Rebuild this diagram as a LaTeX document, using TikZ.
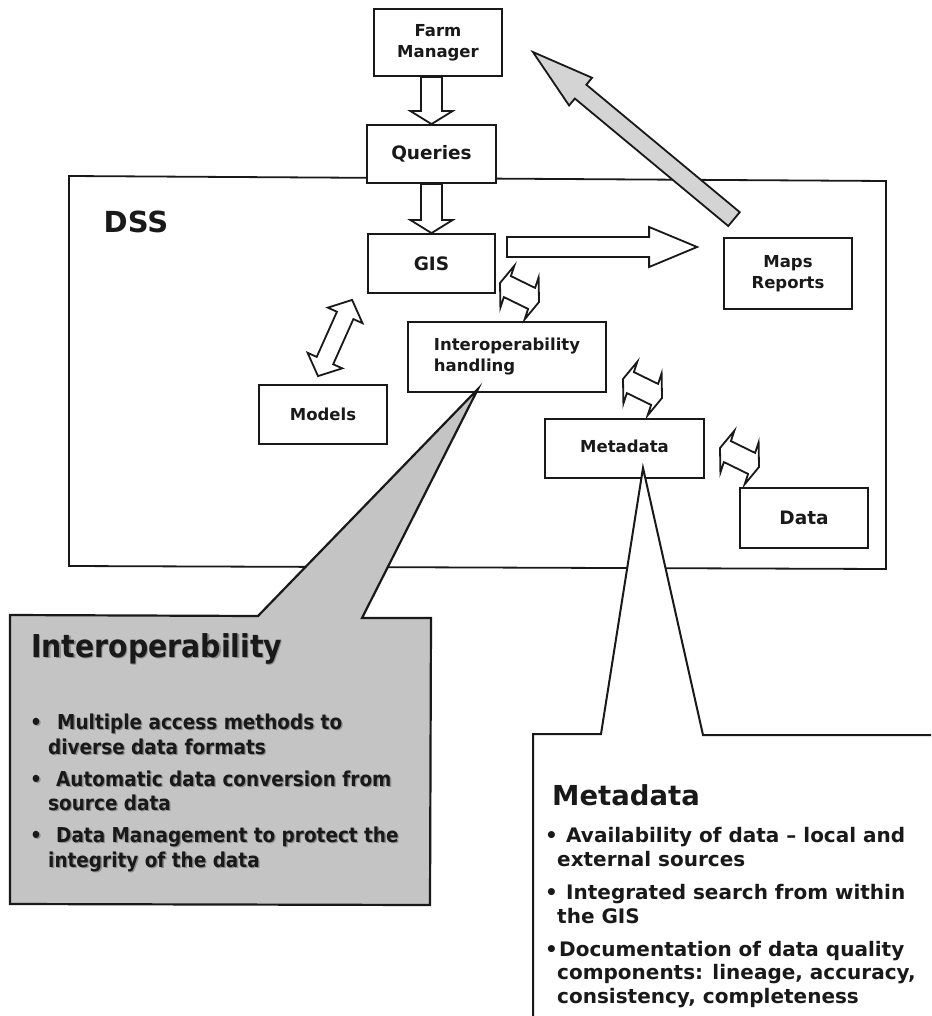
\documentclass[tikz,border=0pt]{standalone}
\usepackage{fontspec}
\setmainfont{DejaVu Sans}
\newfontfamily\condfont{DejaVu Sans Condensed}
\usetikzlibrary{calc}

\definecolor{inkblack}{RGB}{25,25,25}
\definecolor{calloutgray}{RGB}{196,196,196}
\definecolor{arrowgray}{RGB}{212,212,212}

% text with a soft drop shadow (used in the grey callout)
\newcommand\shadetext[1]{\rlap{\hspace{1.3pt}\raisebox{-1.3pt}{\textcolor{black!45}{#1}}}#1}

% hollow one-way block arrow: style, tail, tip, shaft half-width, head half-width, head length
\newcommand\onewayarrow[6]{%
  \coordinate (hb) at ($(#3)!#6!(#2)$);
  \draw[#1] ($(#2)!#4!90:(#3)$) -- ($(hb)!#4!90:(#3)$) -- ($(hb)!#5!90:(#3)$) -- (#3)
    -- ($(hb)!#5!-90:(#3)$) -- ($(hb)!#4!-90:(#3)$) -- ($(#2)!#4!-90:(#3)$) -- cycle;
}
% hollow two-way block arrow: style, end A, end B, shaft half-width, head half-width, head length
\newcommand\twowayarrow[6]{%
  \coordinate (ha) at ($(#2)!#6!(#3)$);
  \coordinate (hb) at ($(#3)!#6!(#2)$);
  \draw[#1] (#2) -- ($(ha)!#5!90:(#3)$) -- ($(ha)!#4!90:(#3)$) -- ($(hb)!#4!-90:(#2)$)
    -- ($(hb)!#5!-90:(#2)$) -- (#3) -- ($(hb)!#5!90:(#2)$) -- ($(hb)!#4!90:(#2)$)
    -- ($(ha)!#4!-90:(#3)$) -- ($(ha)!#5!-90:(#3)$) -- cycle;
}

\begin{document}
\begin{tikzpicture}[x=1pt,y=-1pt,
  frame/.style={draw=inkblack, line width=1.8pt},
  box/.style={draw=inkblack, line width=1.8pt, fill=white, inner sep=0pt, align=center,
    text=inkblack, font=\bfseries\fontsize{16.5}{21}\selectfont},
  bigfont/.style={font=\bfseries\fontsize{18.5}{22}\selectfont},
  hollow/.style={draw=inkblack, line width=1.8pt, fill=white, line join=miter},
  greyarrow/.style={draw=inkblack, line width=1.8pt, fill=arrowgray, line join=miter},
  glyph/.style={draw=inkblack, line width=1.8pt, fill=white, line join=miter},
  callout/.style={draw=inkblack, line width=2.2pt, fill=calloutgray, line join=miter},
  calloutwhite/.style={draw=inkblack, line width=2pt, fill=white, line join=miter},
  itext/.style={inner sep=0pt, anchor=base west, text=inkblack,
    font=\condfont\bfseries\fontsize{20.5}{24}\selectfont},
  mtext/.style={inner sep=0pt, anchor=base west, text=inkblack,
    font=\bfseries\fontsize{20}{24}\selectfont},
  % small two-way exchange arrow, seen obliquely
  swapglyph/.pic={
    \draw[glyph] (0,17) -- (14.4,-0.4) -- (10.9,10.1) -- (35.1,21.9) -- (38.6,11.4) -- (39,36)
      -- (24.6,53.4) -- (28.1,42.9) -- (3.9,31.1) -- (0.4,41.6) -- cycle;
  }]
\useasboundingbox (0,0) rectangle (931,1016);
\clip (0,0) rectangle (931,1016);
\fill[white] (0,0) rectangle (931,1016);

% DSS frame
\draw[frame] (69,176) -- (886,181) -- (886,569) -- (69,566) -- cycle;
\node[inner sep=0pt, text=inkblack, font=\bfseries\fontsize{29}{32}\selectfont] (dss) at (136,222) {DSS};

% components
\node[box, minimum width=128pt, minimum height=67pt] (fm) at (438,42.5) {Farm\\Manager};
\node[box, bigfont, minimum width=129pt, minimum height=58pt] (q) at (431.5,154) {Queries};
\node[box, bigfont, minimum width=127pt, minimum height=59pt] (gis) at (431.5,263.5) {GIS};
\node[box, minimum width=128pt, minimum height=71pt] (maps) at (788,273.5) {Maps\\Reports};
\node[box, align=left, minimum width=198pt, minimum height=70pt] (interop) at (507,357) {Interoperability\\handling};
\node[box, minimum width=128pt, minimum height=59pt] (models) at (323,414.5) {Models};
\node[box, minimum width=159pt, minimum height=59pt] (meta) at (624.5,448.5) {\raisebox{4pt}{Metadata}};
\node[box, bigfont, minimum width=128pt, minimum height=60pt] (data) at (804,518) {Data};

% block arrows
\onewayarrow{hollow}{q.north |- fm.south}{q.north}{10.5pt}{21pt}{13pt}
\onewayarrow{hollow}{q.south}{gis.north}{10.5pt}{21pt}{13pt}
\coordinate (gmA) at ($(gis.east)+(11,-16.5)$);
\coordinate (gmB) at ($(maps.west)+(-26,-26.5)$);
\onewayarrow{hollow}{gmA}{gmB}{10pt}{20pt}{48pt}
\coordinate (mgA) at ($(models.north)+(-5,-8)$);
\coordinate (mgB) at ($(gis.south west)+(-15,6)$);
\twowayarrow{hollow}{mgA}{mgB}{9pt}{19pt}{17pt}
\coordinate (rfA) at ($(maps.north)+(-54,-18)$);
\coordinate (rfB) at ($(fm.east)+(30,9.5)$);
\onewayarrow{greyarrow}{rfA}{rfB}{9pt}{18pt}{62pt}

% exchange arrows between GIS, interoperability, metadata and data
\pic at (500,266) {swapglyph};
\pic at (623,362) {swapglyph};
\pic at (720,431) {swapglyph};

% Interoperability callout
\draw[callout] (10,615) -- (258,616) -- ($(interop.south)+(-29,-4)$) -- (362,618) -- (431,618)
  -- (430,905) -- (10,904) -- cycle;
\node[inner sep=0pt, anchor=base west, text=inkblack,
  font=\condfont\bfseries\fontsize{31.5}{36}\selectfont] (ititle) at (31,657) {\shadetext{Interoperability}};
\node[itext] (ib1) at (30,729) {\shadetext{•}};
\node[itext] (ia1) at (57,729) {\shadetext{Multiple access methods to}};
\node[itext] (ia2) at (48,754) {\shadetext{diverse data formats}};
\node[itext] (ib2) at (30,786) {\shadetext{•}};
\node[itext] (ia3) at (56,786) {\shadetext{Automatic data conversion from}};
\node[itext] (ia4) at (48,810) {\shadetext{source data}};
\node[itext] (ib3) at (30,842) {\shadetext{•}};
\node[itext] (ia5) at (56,842) {\shadetext{Data Management to protect the}};
\node[itext] (ia6) at (48,867) {\shadetext{integrity of the data}};

% Metadata callout
\draw[calloutwhite] (533,1030) -- (533,734) -- (601,734) -- ($(meta.south)+(18.5,-11)$) -- (703,735)
  -- (945,735) -- (945,1030) -- cycle;
\node[inner sep=0pt, anchor=base west, text=inkblack,
  font=\bfseries\fontsize{27.5}{32}\selectfont] (mtitle) at (552,805) {Metadata};
\node[mtext] (mb1) at (545,842) {•};
\node[mtext] (ma1) at (566,842) {Availability of data – local and};
\node[mtext] (ma2) at (557,866) {external sources};
\node[mtext] (mb2) at (545,899) {•};
\node[mtext] (ma3) at (566,899) {Integrated search from within};
\node[mtext] (ma4) at (557,923) {the GIS};
\node[mtext] (mb3) at (545,956) {•};
\node[mtext] (ma5) at (559,956) {Documentation of data quality};
\node[mtext] (ma6) at (557,979) {components: lineage, accuracy,};
\node[mtext] (ma7) at (557,1003) {consistency, completeness};
\end{tikzpicture}
\end{document}
